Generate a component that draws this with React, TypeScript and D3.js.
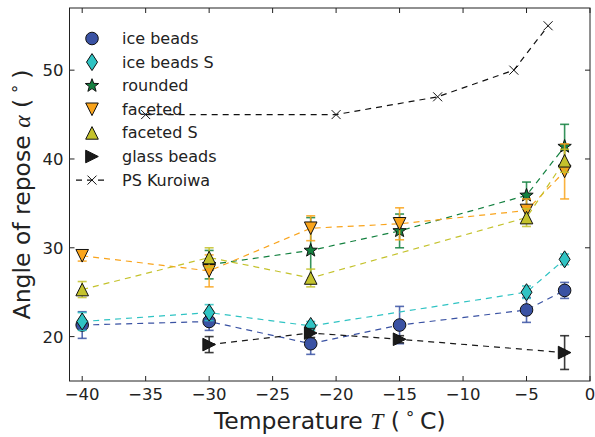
import React, { useRef, useEffect } from 'react'
import * as d3 from 'd3'

// temperature (deg C), angle of repose (deg), error bar half-length
const iceBeadsT = [-40, -30, -22, -15, -5, -2]
const iceBeadsY = [21.3, 21.7, 19.2, 21.3, 23.0, 25.2]
const iceBeadsErr = [1.5, 1.0, 1.2, 2.1, 1.4, 0.9]

const iceBeadsST = [-40, -30, -22, -5, -2]
const iceBeadsSY = [21.7, 22.7, 21.2, 25.0, 28.7]
const iceBeadsSErr = [1.0, 0.9, 0.5, 0.7, 0.6]

const roundedT = [-30, -22, -15, -5, -2]
const roundedY = [28.1, 29.7, 31.9, 35.9, 41.4]
const roundedErr = [1.6, 3.7, 1.9, 1.5, 2.5]

const facetedT = [-40, -30, -22, -15, -5, -2]
const facetedY = [29.1, 27.4, 32.2, 32.7, 34.2, 38.6]
const facetedErr = [0.6, 1.8, 1.4, 1.8, 1.3, 3.1]

const facetedST = [-40, -30, -22, -5, -2]
const facetedSY = [25.3, 28.9, 26.6, 33.4, 39.8]
const facetedSErr = [0.9, 1.1, 1.0, 1.0, 1.3]

const glassT = [-30, -22, -15, -2]
const glassY = [19.1, 20.4, 19.7, 18.2]
const glassErr = [0.9, 0.5, 0.4, 1.9]

const kuroiwaT = [-35, -20, -12, -6, -3.3]
const kuroiwaY = [45, 45, 47, 50, 55]

const xTicks = [-40, -35, -30, -25, -20, -15, -10, -5, 0]
const yTicks = [20, 30, 40, 50]

const series = [
  { name: 'ice beads', t: iceBeadsT, y: iceBeadsY, err: iceBeadsErr, color: '#3a52a3', marker: 'circle' },
  { name: 'ice beads S', t: iceBeadsST, y: iceBeadsSY, err: iceBeadsSErr, color: '#2fc3c3', marker: 'diamond' },
  { name: 'rounded', t: roundedT, y: roundedY, err: roundedErr, color: '#13803f', marker: 'star' },
  { name: 'faceted', t: facetedT, y: facetedY, err: facetedErr, color: '#f9a41c', marker: 'tridown' },
  { name: 'faceted S', t: facetedST, y: facetedSY, err: facetedSErr, color: '#c4c22c', marker: 'triup' },
  { name: 'glass beads', t: glassT, y: glassY, err: glassErr, color: '#1a1a1a', marker: 'triright' },
]

const W = 595
const H = 437

const markerPath = (kind) => {
  const s = 6.3
  switch (kind) {
    case 'circle':
      return d3.symbol(d3.symbolCircle, Math.PI * s * s)()
    case 'diamond':
      return `M0,${-8.5}L5.5,0L0,8.5L-5.5,0Z`
    case 'triup':
      return `M0,${-s}L${s},${s}L${-s},${s}Z`
    case 'tridown':
      return `M0,${s}L${s},${-s}L${-s},${-s}Z`
    case 'triright':
      return `M${s},0L${-s},${-s}L${-s},${s}Z`
    case 'star': {
      const pts = d3.range(10).map(i => {
        const r = i % 2 === 0 ? 7 : 2.9
        const a = -Math.PI / 2 + i * Math.PI / 5
        return [r * Math.cos(a), r * Math.sin(a)]
      })
      return 'M' + pts.map(p => p.join(',')).join('L') + 'Z'
    }
  }
  return ''
}

const Chart = () => {
  const svgRef = useRef(null)

  useEffect(() => {
    document.body.style.margin = '0'
    const svg = d3.select(svgRef.current)
    svg.selectAll('*').remove()

    const x = d3.scaleLinear([-41, 0], [69.5, 590])
    const y = d3.scaleLinear([15, 57], [381, 8])
    const font = 'DejaVu Sans'

    svg.append('rect').attr('width', W).attr('height', H).attr('fill', '#fff')

    // series: dashed line, error bars, markers
    series.forEach(s => {
      const idx = d3.range(s.t.length)
      const line = d3.line().x(i => x(s.t[i])).y(i => y(s.y[i]))
      svg.append('path')
        .attr('d', line(idx))
        .attr('fill', 'none')
        .attr('stroke', s.color)
        .attr('stroke-width', 1.2)
        .attr('stroke-dasharray', '6,5')

      const eb = svg.append('g')
        .attr('stroke', s.color)
        .attr('stroke-width', 1.6)
        .attr('stroke-opacity', 0.85)
      idx.forEach(i => {
        const cx = x(s.t[i])
        const y0 = y(s.y[i] - s.err[i])
        const y1 = y(s.y[i] + s.err[i])
        eb.append('line').attr('x1', cx).attr('x2', cx).attr('y1', y0).attr('y2', y1)
        eb.append('line').attr('x1', cx - 4.5).attr('x2', cx + 4.5).attr('y1', y0).attr('y2', y0)
        eb.append('line').attr('x1', cx - 4.5).attr('x2', cx + 4.5).attr('y1', y1).attr('y2', y1)
      })

      svg.append('g')
        .selectAll('path')
        .data(idx)
        .join('path')
        .attr('transform', i => `translate(${x(s.t[i])},${y(s.y[i])})`)
        .attr('d', markerPath(s.marker))
        .attr('fill', s.color)
        .attr('stroke', '#111')
        .attr('stroke-width', 1)
    })

    // PS Kuroiwa
    const kIdx = d3.range(kuroiwaT.length)
    svg.append('path')
      .attr('d', d3.line().x(i => x(kuroiwaT[i])).y(i => y(kuroiwaY[i]))(kIdx))
      .attr('fill', 'none')
      .attr('stroke', '#111')
      .attr('stroke-width', 1.2)
      .attr('stroke-dasharray', '6,5')
    svg.append('g')
      .selectAll('path')
      .data(kIdx)
      .join('path')
      .attr('transform', i => `translate(${x(kuroiwaT[i])},${y(kuroiwaY[i])})`)
      .attr('d', 'M-4.5,-4.5L4.5,4.5M-4.5,4.5L4.5,-4.5')
      .attr('stroke', '#111')
      .attr('stroke-width', 1)

    // frame and ticks (inward, all four sides)
    const [x0, x1] = x.range()
    const [yb, yt] = y.range()
    svg.append('rect')
      .attr('x', x0).attr('y', yt)
      .attr('width', x1 - x0).attr('height', yb - yt)
      .attr('fill', 'none').attr('stroke', '#222').attr('stroke-width', 1)

    const ticks = svg.append('g').attr('stroke', '#222').attr('stroke-width', 1)
    xTicks.forEach(t => {
      ticks.append('line').attr('x1', x(t)).attr('x2', x(t)).attr('y1', yb).attr('y2', yb - 5)
      ticks.append('line').attr('x1', x(t)).attr('x2', x(t)).attr('y1', yt).attr('y2', yt + 5)
    })
    yTicks.forEach(t => {
      ticks.append('line').attr('x1', x0).attr('x2', x0 + 5).attr('y1', y(t)).attr('y2', y(t))
      ticks.append('line').attr('x1', x1).attr('x2', x1 - 5).attr('y1', y(t)).attr('y2', y(t))
    })

    svg.append('g')
      .selectAll('text')
      .data(xTicks)
      .join('text')
      .attr('x', t => x(t))
      .attr('y', yb + 19)
      .attr('text-anchor', 'middle')
      .attr('font-family', font)
      .attr('font-size', 16.5)
      .attr('fill', '#222')
      .text(t => d3.format('d')(t).replace('-', '\u2212'))

    svg.append('g')
      .selectAll('text')
      .data(yTicks)
      .join('text')
      .attr('x', x0 - 6)
      .attr('y', t => y(t) + 6)
      .attr('text-anchor', 'end')
      .attr('font-family', font)
      .attr('font-size', 16.5)
      .attr('fill', '#222')
      .text(t => t)

    // axis labels
    const xl = svg.append('text')
      .attr('x', (x0 + x1) / 2)
      .attr('y', 429)
      .attr('text-anchor', 'middle')
      .attr('font-family', font)
      .attr('font-size', 23.5)
      .attr('fill', '#222')
    xl.append('tspan').text('Temperature ')
    xl.append('tspan').attr('font-family', 'Liberation Serif').attr('font-style', 'italic').text('T')
    xl.append('tspan').text(' (\u2009')
    xl.append('tspan').attr('dy', -10).attr('font-size', 17).text('\u2218')
    xl.append('tspan').attr('dy', 10).text('\u2009C)')

    const yl = svg.append('text')
      .attr('transform', `translate(30,${(yb + yt) / 2}) rotate(-90)`)
      .attr('text-anchor', 'middle')
      .attr('font-family', font)
      .attr('font-size', 23.5)
      .attr('fill', '#222')
    yl.append('tspan').text('Angle of repose ')
    yl.append('tspan').attr('font-family', 'Liberation Serif').attr('font-style', 'italic').text('\u03b1')
    yl.append('tspan').text(' (\u2009')
    yl.append('tspan').attr('dy', -10).attr('font-size', 17).text('\u2218')
    yl.append('tspan').attr('dy', 10).text('\u2009)')

    // legend
    const lg = svg.append('g')
    const rowY = i => 38.5 + i * 23.6
    series.forEach((s, i) => {
      lg.append('path')
        .attr('transform', `translate(92,${rowY(i)})`)
        .attr('d', markerPath(s.marker))
        .attr('fill', s.color)
        .attr('stroke', '#111')
        .attr('stroke-width', 1)
      lg.append('text')
        .attr('x', 122).attr('y', rowY(i) + 5.5)
        .attr('font-family', font).attr('font-size', 16)
        .attr('fill', '#222')
        .text(s.name)
    })
    const ky = rowY(6)
    lg.append('path')
      .attr('d', `M76,${ky}H108`)
      .attr('stroke', '#111').attr('stroke-width', 1.2)
      .attr('stroke-dasharray', '6,5')
    lg.append('path')
      .attr('transform', `translate(92,${ky})`)
      .attr('d', 'M-4.5,-4.5L4.5,4.5M-4.5,4.5L4.5,-4.5')
      .attr('stroke', '#111').attr('stroke-width', 1)
    lg.append('text')
      .attr('x', 122).attr('y', ky + 5.5)
      .attr('font-family', font).attr('font-size', 16)
      .attr('fill', '#222')
      .text('PS Kuroiwa')
  }, [])

  return (
    <svg ref={svgRef} width={W} height={H}
      style={{ display: 'block', position: 'absolute', left: 0, top: 0 }} />
  )
}

export default function App() {
  return <Chart />
}
